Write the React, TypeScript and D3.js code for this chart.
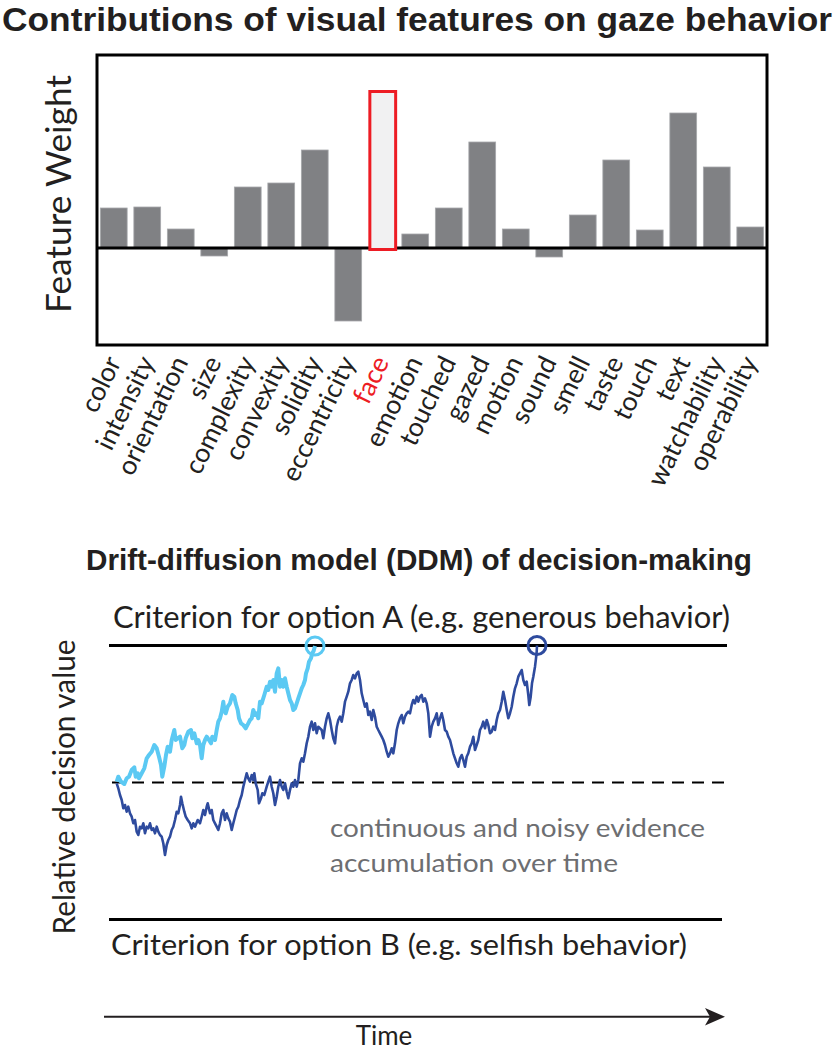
import { useEffect, useRef } from 'react';
import * as d3 from 'd3';

// ---- panel A: feature weights ----
const features = [
  'color', 'intensity', 'orientation', 'size', 'complexity', 'convexity', 'solidity',
  'eccentricity', 'face', 'emotion', 'touched', 'gazed', 'motion', 'sound', 'smell',
  'taste', 'touch', 'text', 'watchability', 'operability',
];
const weights = [
  0.40, 0.41, 0.19, -0.08, 0.61, 0.65, 0.98, -0.73, 1.58, 0.14,
  0.40, 1.06, 0.19, -0.09, 0.33, 0.88, 0.18, 1.35, 0.81, 0.21,
];
const highlighted = 'face';

// ---- panel B: drift-diffusion traces, [time, relative decision value] ----
const lightTrace: [number, number][] = [
  [0.7, 0.8], [2.3, 5.8], [5.0, 0.8], [8.3, -1.5], [10.7, 4.2], [13.0, 5.8], [15.7, 12.5],
  [18.3, 15.2], [19.7, 5.8], [21.7, 9.2], [23.0, 4.2], [25.7, 9.2], [28.3, 14.2], [30.7, 24.2],
  [33.0, 27.5], [35.7, 30.8], [38.3, 37.5], [40.7, 34.2], [43.0, 25.8], [45.0, 17.5], [46.3, 5.8],
  [48.3, 15.8], [50.0, 27.5], [51.7, 35.8], [54.0, 30.8], [55.7, 42.5], [58.3, 52.5], [59.7, 42.5],
  [61.7, 44.2], [64.0, 45.8], [66.3, 34.2], [68.3, 37.5], [69.7, 44.2], [72.3, 50.8], [75.0, 52.5],
  [76.3, 44.2], [78.3, 49.2], [80.7, 39.2], [82.3, 42.5], [84.0, 37.5], [85.7, 24.2], [87.3, 37.5],
  [89.0, 42.5], [90.7, 45.8], [93.0, 42.5], [95.0, 39.2], [96.3, 45.8], [99.0, 42.5], [100.7, 52.5],
  [102.3, 60.8], [104.0, 64.2], [105.7, 70.8], [107.3, 80.8], [108.3, 72.5], [109.7, 69.2],
  [111.7, 75.8], [114.0, 79.2], [116.3, 87.5], [118.3, 85.8], [119.7, 79.2], [121.7, 72.5],
  [123.0, 64.2], [125.0, 59.2], [127.3, 57.5], [129.7, 54.2], [132.3, 59.2], [134.0, 62.5],
  [135.7, 64.2], [137.3, 72.5], [139.0, 67.5], [140.7, 69.2], [142.3, 64.2], [144.0, 80.8],
  [145.7, 79.2], [148.3, 87.5], [150.7, 95.8], [152.3, 92.5], [154.0, 100.8], [155.7, 95.8],
  [157.3, 102.5], [159.0, 90.8], [160.7, 109.2], [162.3, 114.2], [164.0, 95.8], [165.7, 102.5],
  [167.3, 95.8], [169.0, 104.2], [170.7, 95.8], [172.3, 89.2], [174.0, 82.5], [175.7, 79.2],
  [177.3, 72.5], [179.0, 74.2], [180.7, 79.2], [182.3, 84.2], [184.0, 89.2], [185.7, 94.2],
  [187.3, 97.5], [189.0, 102.5], [190.0, 109.2], [191.7, 114.2], [193.0, 120.8], [195.0, 124.2],
  [196.3, 129.2], [197.7, 131.8], [199.0, 136.5],
];
const darkTrace: [number, number][] = [
  [0.7, -0.8], [2.3, -5.8], [4.0, -12.5], [5.7, -17.5], [7.3, -25.8], [9.0, -22.5], [10.7, -29.2],
  [12.3, -24.2], [14.0, -30.8], [15.7, -34.2], [17.3, -40.8], [19.0, -37.5], [20.7, -49.2],
  [22.3, -52.5], [24.0, -44.2], [25.7, -45.8], [27.3, -40.8], [29.0, -50.8], [30.7, -44.2],
  [32.3, -45.8], [34.0, -40.8], [35.7, -47.5], [37.3, -45.8], [39.0, -50.8], [40.7, -44.2],
  [42.3, -49.2], [44.0, -52.5], [45.7, -54.2], [47.3, -60.8], [49.0, -72.5], [50.7, -62.5],
  [52.3, -57.5], [54.0, -54.2], [55.7, -47.5], [57.3, -44.2], [59.0, -37.5], [60.7, -29.2],
  [62.3, -30.8], [64.0, -22.5], [65.0, -14.2], [66.3, -20.8], [68.3, -29.2], [69.7, -34.2],
  [71.7, -37.5], [74.0, -40.8], [75.7, -45.8], [77.3, -40.8], [79.0, -44.2], [81.7, -37.5],
  [84.0, -40.8], [85.7, -34.2], [87.3, -27.5], [89.0, -32.5], [90.7, -24.2], [91.7, -20.8],
  [94.0, -30.8], [95.7, -27.5], [97.3, -37.5], [99.0, -40.8], [100.7, -44.2], [102.3, -47.5],
  [104.0, -40.8], [105.7, -30.8], [107.3, -27.5], [109.0, -37.5], [110.7, -30.8], [112.3, -35.8],
  [114.0, -39.2], [115.7, -47.5], [117.3, -40.8], [119.0, -34.2], [120.7, -27.5], [122.3, -24.2],
  [124.0, -17.5], [125.7, -12.5], [127.3, -4.2], [129.0, 2.5], [130.7, 9.2], [132.3, 4.2],
  [134.0, 0.8], [135.7, 7.5], [137.3, 2.5], [138.3, 9.2], [139.7, -0.8], [141.7, -7.5],
  [143.0, -20.8], [145.0, -15.8], [146.3, -10.8], [148.3, -12.5], [150.7, -4.2], [152.3, 0.8],
  [154.0, 5.8], [155.7, -4.2], [157.3, -10.8], [159.0, -22.5], [160.7, -14.2], [162.3, -4.2],
  [164.0, 2.5], [165.7, -4.2], [167.3, -7.5], [169.0, -0.8], [170.7, -9.2], [172.3, -15.8],
  [174.0, -7.5], [175.7, -0.8], [177.3, -4.2], [179.0, 2.5], [180.7, -4.2], [182.3, 2.5],
  [184.0, 19.2], [185.7, 24.2], [187.3, 20.8], [189.0, 29.2], [190.7, 39.2], [192.3, 45.8],
  [194.0, 55.8], [195.7, 60.8], [197.3, 52.5], [199.0, 59.2], [200.7, 49.2], [202.3, 55.8],
  [205.7, 52.5], [207.3, 44.2], [209.0, 55.8], [210.7, 64.2], [212.3, 69.2], [214.0, 62.5],
  [215.7, 52.5], [217.3, 44.2], [219.0, 39.2], [220.7, 55.8], [222.3, 62.5], [224.0, 65.8],
  [225.7, 60.8], [227.3, 69.2], [229.0, 80.8], [230.7, 85.8], [232.3, 90.8], [234.0, 99.2],
  [235.7, 102.5], [237.3, 107.5], [239.0, 104.2], [240.7, 109.2], [242.3, 110.8], [244.0, 102.5],
  [245.7, 89.2], [247.3, 82.5], [249.0, 75.8], [250.7, 79.2], [252.3, 67.5], [254.0, 70.8],
  [255.7, 62.5], [257.3, 72.5], [259.0, 65.8], [260.7, 55.8], [262.3, 52.5], [264.0, 49.2],
  [265.7, 45.8], [267.3, 42.5], [269.0, 37.5], [270.7, 30.8], [272.3, 25.8], [274.0, 29.2],
  [275.7, 34.2], [277.3, 29.2], [279.0, 39.2], [280.7, 52.5], [282.3, 59.2], [284.0, 64.2],
  [285.7, 67.5], [287.3, 59.2], [289.0, 65.8], [290.7, 69.2], [292.3, 70.8], [294.0, 69.2],
  [295.7, 77.5], [297.3, 82.5], [299.0, 79.2], [300.7, 85.8], [302.3, 80.8], [304.0, 85.8],
  [305.7, 87.5], [307.3, 80.8], [309.0, 84.2], [310.7, 79.2], [312.3, 69.2], [314.0, 45.8],
  [315.7, 55.8], [317.3, 60.8], [319.0, 64.2], [320.7, 69.2], [322.3, 57.5], [324.0, 64.2],
  [325.7, 69.2], [327.3, 62.5], [329.0, 52.5], [330.7, 50.8], [332.3, 45.8], [334.0, 42.5],
  [335.7, 35.8], [337.3, 29.2], [339.0, 24.2], [340.7, 19.2], [342.3, 15.8], [344.0, 24.2],
  [345.7, 27.5], [347.3, 22.5], [349.0, 15.8], [350.7, 25.8], [352.3, 29.2], [354.0, 35.8],
  [355.7, 39.2], [357.3, 45.8], [359.0, 32.5], [360.7, 37.5], [362.3, 42.5], [364.0, 52.5],
  [365.7, 55.8], [367.3, 60.8], [369.0, 54.2], [370.7, 62.5], [372.3, 57.5], [374.0, 49.2],
  [375.7, 50.8], [377.3, 55.8], [379.0, 52.5], [380.7, 62.5], [382.3, 69.2], [384.0, 72.5],
  [385.7, 80.8], [387.3, 90.8], [389.0, 82.5], [390.7, 72.5], [392.3, 64.2], [394.0, 69.2],
  [395.7, 75.8], [397.3, 85.8], [399.0, 94.2], [400.7, 99.2], [402.3, 105.8], [404.0, 109.2],
  [405.7, 112.5], [407.3, 102.5], [409.0, 97.5], [410.7, 100.8], [412.3, 87.5], [413.3, 77.5],
  [414.7, 85.8], [416.0, 99.2], [417.3, 105.8], [419.0, 115.8], [420.0, 124.2], [420.7, 130.8],
  [421.0, 137.0],
];
const criterion = 137; // +criterion = option A, -criterion = option B

const FONT = 'Lato, "Open Sans", sans-serif';

export default function App() {
  const svgRef = useRef<SVGSVGElement>(null);

  useEffect(() => {
    if (!svgRef.current) return;
    const svg = d3.select(svgRef.current);
    svg.selectAll('*').remove();

    // ---------- top panel ----------
    svg.append('text')
      .attr('x', 2).attr('y', 31)
      .attr('font-family', '"Liberation Sans", Arial, sans-serif')
      .attr('font-weight', 700).attr('font-size', 34)
      .attr('textLength', 830).attr('lengthAdjust', 'spacingAndGlyphs')
      .attr('fill', '#231f20')
      .text('Contributions of visual features on gaze behavior');

    const frame = { left: 97, right: 767, top: 55, bottom: 345 };
    const x = d3.scaleBand()
      .domain(features)
      .range([frame.left, frame.right])
      .paddingInner(0.2)
      .paddingOuter(0.1);
    const y = d3.scaleLinear().domain([-0.97, 1.93]).range([frame.bottom, frame.top]);

    const data = features.map((f, i) => ({ f, w: weights[i] }));
    const g = svg.append('g');

    g.selectAll('.bar')
      .data(data.filter(d => d.f !== highlighted))
      .join('rect')
      .attr('x', d => x(d.f)!)
      .attr('width', x.bandwidth())
      .attr('y', d => y(Math.max(0, d.w)))
      .attr('height', d => Math.abs(y(d.w) - y(0)))
      .attr('fill', '#808184')
      .attr('stroke', '#a7a9ac')
      .attr('stroke-width', 0.8);

    // zero line
    g.append('line')
      .attr('x1', frame.left).attr('x2', frame.right)
      .attr('y1', y(0)).attr('y2', y(0))
      .attr('stroke', '#000').attr('stroke-width', 3);

    // highlighted bar
    const h = data.find(d => d.f === highlighted)!;
    g.append('rect')
      .attr('x', x(h.f)! + 1.5)
      .attr('width', x.bandwidth() - 1)
      .attr('y', y(h.w) + 1.5)
      .attr('height', y(0) - y(h.w))
      .attr('fill', '#f1f1f2')
      .attr('stroke', '#ed1c24')
      .attr('stroke-width', 3);

    g.append('rect')
      .attr('x', frame.left).attr('y', frame.top)
      .attr('width', frame.right - frame.left).attr('height', frame.bottom - frame.top)
      .attr('fill', 'none').attr('stroke', '#000').attr('stroke-width', 3);

    // category labels
    g.selectAll('.cat')
      .data(features)
      .join('text')
      .attr('transform', d => `translate(${x(d)! + x.bandwidth() / 2 + 8},${frame.bottom + 17}) rotate(-64)`)
      .attr('text-anchor', 'end')
      .attr('font-family', FONT)
      .attr('font-size', 26.5)
      .attr('fill', d => (d === highlighted ? '#ed1c24' : '#231f20'))
      .text(d => d);

    svg.append('text')
      .attr('transform', `translate(71,${(75 + 313) / 2}) rotate(-90)`)
      .attr('text-anchor', 'middle')
      .attr('font-family', FONT).attr('font-size', 34)
      .attr('textLength', 238).attr('lengthAdjust', 'spacingAndGlyphs')
      .attr('fill', '#231f20')
      .text('Feature Weight');

    // ---------- bottom panel ----------
    svg.append('text')
      .attr('x', 86).attr('y', 570)
      .attr('font-family', '"Liberation Sans", Arial, sans-serif')
      .attr('font-weight', 700).attr('font-size', 30)
      .attr('textLength', 666).attr('lengthAdjust', 'spacingAndGlyphs')
      .attr('fill', '#231f20')
      .text('Drift-diffusion model (DDM) of decision-making');

    const tx = d3.scaleLinear().domain([0, 606]).range([116, 722]);
    const vy = d3.scaleLinear().domain([-criterion, criterion]).range([919.5, 645.5]);

    const ddm = svg.append('g');
    ddm.append('line')
      .attr('x1', 109).attr('x2', 727)
      .attr('y1', vy(criterion)).attr('y2', vy(criterion))
      .attr('stroke', '#000').attr('stroke-width', 3);
    ddm.append('line')
      .attr('x1', 109).attr('x2', 722)
      .attr('y1', vy(-criterion)).attr('y2', vy(-criterion))
      .attr('stroke', '#000').attr('stroke-width', 3);
    ddm.append('line')
      .attr('x1', 112).attr('x2', 724)
      .attr('y1', vy(0)).attr('y2', vy(0))
      .attr('stroke', '#000').attr('stroke-width', 2)
      .attr('stroke-dasharray', '12,8');

    const line = d3.line<[number, number]>()
      .x(d => tx(d[0]))
      .y(d => vy(d[1]));

    const traces = [
      { pts: darkTrace, color: '#2e4b9e', width: 2.6 },
      { pts: lightTrace, color: '#5bc9f3', width: 4 },
    ];
    traces.forEach(t => {
      ddm.append('path')
        .attr('d', line(t.pts))
        .attr('fill', 'none')
        .attr('stroke', t.color)
        .attr('stroke-width', t.width)
        .attr('stroke-linejoin', 'round');
      const end = t.pts[t.pts.length - 1];
      ddm.append('circle')
        .attr('cx', tx(end[0])).attr('cy', vy(end[1])).attr('r', 9)
        .attr('fill', 'none').attr('stroke', t.color).attr('stroke-width', 3);
    });

    const label = (txt: string, xx: number, yy: number, size: number, len: number, fill = '#231f20') =>
      svg.append('text')
        .attr('x', xx).attr('y', yy)
        .attr('font-family', FONT).attr('font-size', size)
        .attr('textLength', len).attr('lengthAdjust', 'spacingAndGlyphs')
        .attr('fill', fill)
        .text(txt);

    label('Criterion for option A (e.g. generous behavior)', 113, 628, 30, 617);
    label('Criterion for option B (e.g. selfish behavior)', 111, 955, 28, 576);
    label('continuous and noisy evidence', 330, 837, 25, 375, '#6d6e71');
    label('accumulation over time', 330, 872, 25, 288, '#6d6e71');

    svg.append('text')
      .attr('transform', `translate(75,787) rotate(-90)`)
      .attr('text-anchor', 'middle')
      .attr('font-family', FONT).attr('font-size', 30)
      .attr('textLength', 295).attr('lengthAdjust', 'spacingAndGlyphs')
      .attr('fill', '#231f20')
      .text('Relative decision value');

    // time arrow
    svg.append('line')
      .attr('x1', 104).attr('x2', 712)
      .attr('y1', 1016.7).attr('y2', 1016.7)
      .attr('stroke', '#231f20').attr('stroke-width', 2);
    svg.append('path')
      .attr('d', 'M725,1016.7 L705,1008 L710,1016.7 L705,1025.4 Z')
      .attr('fill', '#231f20');
    svg.append('text')
      .attr('x', 384).attr('y', 1045)
      .attr('text-anchor', 'middle')
      .attr('font-family', FONT).attr('font-size', 26)
      .attr('fill', '#231f20')
      .text('Time');
  }, []);

  return (
    <svg
      ref={svgRef}
      width={838}
      height={1050}
      style={{ position: 'absolute', left: 0, top: 0, background: '#fff' }}
    />
  );
}
